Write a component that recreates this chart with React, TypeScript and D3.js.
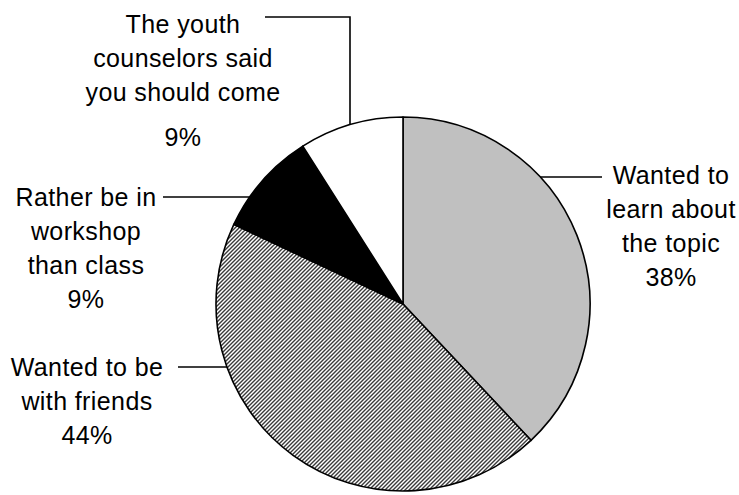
import React from "react";
import * as d3 from "d3";

const categories = [
  "Wanted to learn about the topic",
  "Wanted to be with friends",
  "Rather be in workshop than class",
  "The youth counselors said you should come",
];
const values = [38, 44, 9, 9];
const labelLines = [
  ["Wanted to", "learn about", "the topic", "38%"],
  ["Wanted to be", "with friends", "44%"],
  ["Rather be in", "workshop", "than class", "9%"],
  ["The youth", "counselors said", "you should come", "9%"],
];

const W = 739;
const H = 495;
const cx = 403;
const cy = 304;
const R = 187;

export default function App() {
  const pie = d3.pie<number>().sort(null).startAngle(0).endAngle(2 * Math.PI);
  const arcs = pie(values);
  const arc = d3.arc<d3.PieArcDatum<number>>().innerRadius(0).outerRadius(R);
  const fills = ["#c0c0c0", "url(#hatch)", "#000000", "#ffffff"];

  const lineH = 34;
  const layout = [
    { x: 671, y: 184, gapAfter: -1, leader: { type: "h", y: 177, x0: 602, side: 1 } },
    { x: 87, y: 376, gapAfter: -1, leader: { type: "h", y: 367, x0: 178, side: -1 } },
    { x: 86, y: 206, gapAfter: -1, leader: { type: "h", y: 197, x0: 163, side: -1 } },
    { x: 183, y: 33, gapAfter: 2, leader: { type: "v", y: 17, x0: 265, x1: 350 } },
  ];

  const edgeX = (y: number, side: number) => cx + side * Math.sqrt(R * R - (y - cy) * (y - cy));
  const edgeY = (x: number) => cy - Math.sqrt(R * R - (x - cx) * (x - cx));

  return (
    <svg
      width={W}
      height={H}
      style={{ position: "absolute", left: 0, top: 0, background: "#fff" }}
      fontFamily="'Liberation Sans', Arial, sans-serif"
    >
      <defs>
        <pattern id="hatch" patternUnits="userSpaceOnUse" width={4} height={4}>
          <rect width={4} height={4} fill="#ffffff" />
          <path d="M-1,1 l2,-2 M0,4 l4,-4 M3,5 l2,-2" stroke="#3a3a3a" strokeWidth={1.4} />
        </pattern>
      </defs>
      <g transform={`translate(${cx},${cy})`}>
        {arcs.map((a, i) => (
          <path
            key={categories[i]}
            d={arc(a) || ""}
            fill={fills[i]}
            stroke="#000"
            strokeWidth={1.6}
            strokeLinejoin="round"
          />
        ))}
      </g>
      {layout.map((l, i) => {
        const ld: any = l.leader;
        let leader;
        if (ld.type === "h") {
          const xe = edgeX(ld.y, ld.side);
          leader = <line x1={ld.x0} y1={ld.y} x2={xe} y2={ld.y} stroke="#000" strokeWidth={1.6} />;
        } else {
          const ye = edgeY(ld.x1);
          leader = (
            <polyline
              points={`${ld.x0},${ld.y} ${ld.x1},${ld.y} ${ld.x1},${ye}`}
              fill="none"
              stroke="#000"
              strokeWidth={1.6}
            />
          );
        }
        return (
          <g key={categories[i]}>
            {leader}
            <text textAnchor="middle" fontSize={25} fill="#000" letterSpacing={0.4}>
              {labelLines[i].map((t, j) => {
                const extra = l.gapAfter >= 0 && j > l.gapAfter ? 11 : 0;
                return (
                  <tspan key={j} x={l.x} y={l.y + j * lineH + extra}>
                    {t}
                  </tspan>
                );
              })}
            </text>
          </g>
        );
      })}
    </svg>
  );
}
